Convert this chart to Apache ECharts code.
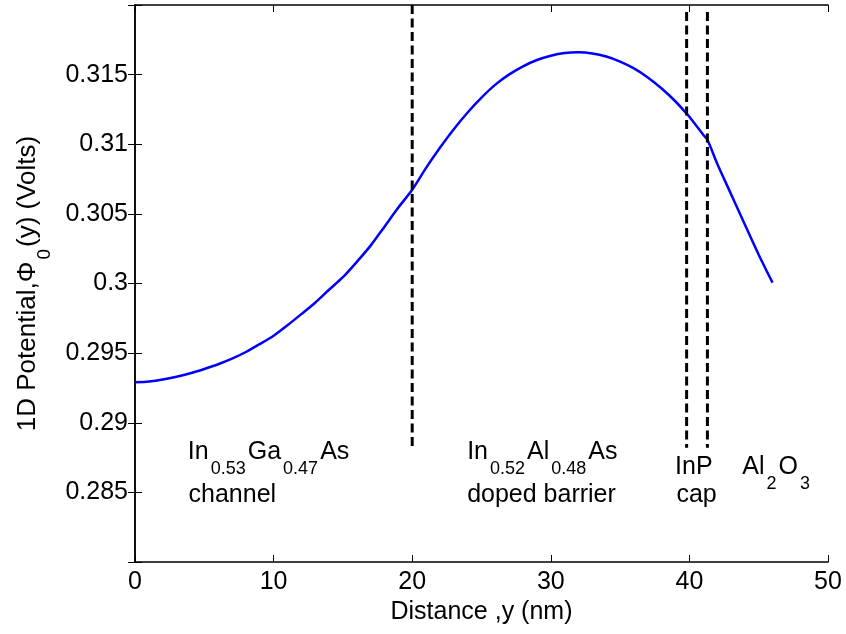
<!DOCTYPE html>
<html>
<head>
<meta charset="utf-8">
<script src="https://cdn.jsdelivr.net/npm/echarts@6/dist/echarts.min.js"></script>
<style>
  html, body { margin: 0; padding: 0; background: #ffffff; }
  #chart { width: 846px; height: 634px; }
</style>
</head>
<body>
<div id="chart"></div>
<script>
// 1D potential profile across the heterostructure
const distance = [0, 1, 2, 3, 4, 5, 6, 7, 8, 9, 10, 11, 12, 13, 14, 15, 16, 17, 18, 19,
  20, 21, 22, 23, 24, 25, 26, 27, 28, 29, 30, 31, 32, 33, 34, 35, 36, 37, 38, 39,
  39.8, 40, 41, 41.3, 42, 43, 44, 45, 46];
const potential = [0.29290, 0.29296, 0.29310, 0.29330, 0.29355, 0.29386, 0.29420, 0.29460, 0.29508, 0.29565,
  0.29625, 0.29700, 0.29780, 0.29862, 0.29955, 0.30045, 0.30155, 0.30272, 0.30408, 0.30545,
  0.30673, 0.30830, 0.30975, 0.31108, 0.31228, 0.31335, 0.31428, 0.31502, 0.31560, 0.31605,
  0.31636, 0.31655, 0.31660, 0.31652, 0.31630, 0.31594, 0.31545, 0.31480, 0.31400, 0.31307,
  0.31220, 0.31197, 0.31068, 0.31032, 0.30862, 0.30643, 0.30424, 0.30207, 0.30006];

// Layer interfaces (dashed markers)
const boundaryX = [20, 39.8, 41.3];
const boundaryTop = [0.32, 0.3195, 0.3195];
const boundaryBottom = [0.2882, 0.2882, 0.2882];

// Axis ranges
const xRange = [0, 50];
const xStep = 10;
const yRange = [0.28, 0.32];
const yStep = 0.005;

// Layer annotations (anchor = top-left of text line)
const labelX = [3.85, 3.9, 24.0, 24.0, 39.0, 39.1, 43.85];
const labelY = [0.28877, 0.28567, 0.28877, 0.28567, 0.28770, 0.28567, 0.28770];
const labelText = [
  '{m|In}{s|0.53}{m|Ga}{s|0.47}{m|As}',
  '{m|channel}',
  '{m|In}{s|0.52}{m|Al}{s|0.48}{m|As}',
  '{m|doped barrier}',
  '{m|InP}',
  '{m|cap}',
  '{m|Al}{s|2}{m|O}{s|3}'
];

const FONT = "'Liberation Sans', Arial, Helvetica, sans-serif";
// main text sits at the top of the line, subscripts hang at its bottom
const richStyles = {
  m: { fontFamily: FONT, fontSize: 25, lineHeight: 25, color: '#000', verticalAlign: 'top' },
  s: { fontFamily: FONT, fontSize: 18, lineHeight: 39, color: '#000', verticalAlign: 'bottom', padding: [0, 2, 0, 2] }
};
const nameRich = {
  m: { fontFamily: FONT, fontSize: 26, lineHeight: 26, color: '#000', verticalAlign: 'top' },
  s: { fontFamily: FONT, fontSize: 19, lineHeight: 40, color: '#000', verticalAlign: 'bottom', padding: [0, 2, 0, 2] }
};

const chart = echarts.init(document.getElementById('chart'), null, { renderer: 'canvas' });

const axisLineStyle = { color: '#000', width: 1.5 };

function yLabel(v) {
  if (Math.abs(v - yRange[0]) < 1e-9 || Math.abs(v - yRange[1]) < 1e-9) return '';
  return String(parseFloat(v.toFixed(3)));
}

const boundarySeries = boundaryX.map((bx, i) => ({
  type: 'line',
  xAxisIndex: 0,
  yAxisIndex: 0,
  data: [[bx, boundaryTop[i]], [bx, boundaryBottom[i]]],
  symbol: 'none',
  silent: true,
  z: 5,
  lineStyle: { color: '#000', width: 3, type: [9, 4.5] }
}));

chart.setOption({
  animation: false,
  backgroundColor: '#ffffff',
  grid: { left: 135, right: 18, top: 5, bottom: 72, containLabel: false },
  xAxis: [
    {
      type: 'value', position: 'bottom', min: xRange[0], max: xRange[1], interval: xStep,
      name: 'Distance ,y (nm)', nameLocation: 'middle', nameGap: 36,
      nameTextStyle: { fontFamily: FONT, fontSize: 25, color: '#000' },
      axisLine: { show: true, lineStyle: axisLineStyle },
      axisTick: { show: true, inside: true, length: 7, lineStyle: { color: '#000', width: 1 } },
      axisLabel: { show: true, margin: 8, fontFamily: FONT, fontSize: 25, color: '#000' },
      splitLine: { show: false }
    },
    {
      type: 'value', position: 'top', min: xRange[0], max: xRange[1], interval: xStep,
      axisLine: { show: true, lineStyle: axisLineStyle },
      axisTick: { show: true, inside: true, length: 7, lineStyle: { color: '#000', width: 1 } },
      axisLabel: { show: false },
      splitLine: { show: false }
    }
  ],
  yAxis: [
    {
      type: 'value', position: 'left', min: yRange[0], max: yRange[1], interval: yStep,
      name: '{m|1D Potential,\u03A6}{s|0}{m|(y) (Volts)}', nameLocation: 'middle', nameGap: 79,
      nameTextStyle: { fontFamily: FONT, fontSize: 26, color: '#000', rich: nameRich },
      axisLine: { show: true, lineStyle: axisLineStyle },
      axisTick: { show: true, inside: true, length: 7, lineStyle: { color: '#000', width: 1 } },
      axisLabel: { show: true, margin: 7, fontFamily: FONT, fontSize: 25, color: '#000', formatter: yLabel },
      splitLine: { show: false }
    },
    {
      type: 'value', position: 'right', min: yRange[0], max: yRange[1], interval: yStep,
      axisLine: { show: true, lineStyle: axisLineStyle },
      axisTick: { show: true, inside: true, length: 7, lineStyle: { color: '#000', width: 1 } },
      axisLabel: { show: false },
      splitLine: { show: false }
    }
  ],
  series: [
    {
      type: 'line',
      name: 'potential',
      xAxisIndex: 0,
      yAxisIndex: 0,
      data: distance.map((d, i) => [d, potential[i]]),
      symbol: 'none',
      smooth: 0.25,
      z: 3,
      lineStyle: { color: '#0000ff', width: 2.5 }
    },
    ...boundarySeries,
    {
      type: 'scatter',
      name: 'layers',
      xAxisIndex: 0,
      yAxisIndex: 0,
      data: labelX.map((x, i) => [x, labelY[i]]),
      symbolSize: 1,
      itemStyle: { color: 'rgba(0,0,0,0)', opacity: 1 },
      silent: true,
      z: 6,
      label: {
        show: true,
        position: [0, 0],
        align: 'left',
        verticalAlign: 'top',
        formatter: p => labelText[p.dataIndex],
        rich: richStyles
      }
    }
  ]
});
</script>
</body>
</html>
